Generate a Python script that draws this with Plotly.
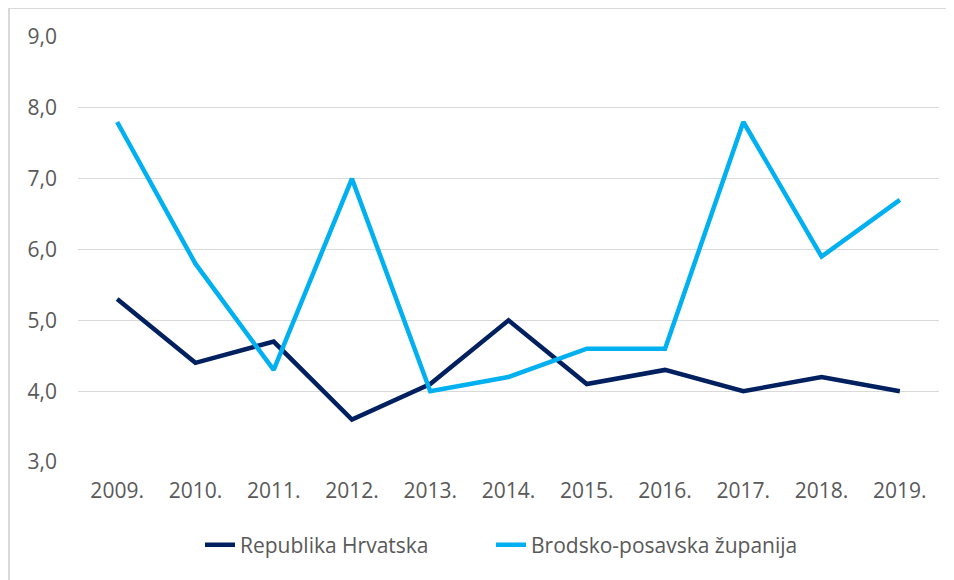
import plotly.graph_objects as go

years = ["2009.", "2010.", "2011.", "2012.", "2013.", "2014.", "2015.", "2016.", "2017.", "2018.", "2019."]
hrvatska = [5.3, 4.4, 4.7, 3.6, 4.1, 5.0, 4.1, 4.3, 4.0, 4.2, 4.0]
brodsko = [7.8, 5.8, 4.3, 7.0, 4.0, 4.2, 4.6, 4.6, 7.8, 5.9, 6.7]
y_ticks = [3, 4, 5, 6, 7, 8, 9]

fig = go.Figure()
fig.add_trace(go.Scatter(x=years, y=hrvatska, mode="lines", name="Republika Hrvatska",
                         line=dict(color="#002060", width=4.5), legend="legend"))
fig.add_trace(go.Scatter(x=years, y=brodsko, mode="lines", name="Brodsko-posavska županija",
                         line=dict(color="#00b0f0", width=4.5), legend="legend2"))

W, H = 946, 572
L, R, T, B = 70, 15, 29, 118
pw, ph = W - L - R, H - T - B

def px(x):
    return (x - L) / pw

def py(y):
    return (H - B - y) / ph

leg_font = dict(size=21, color="#595959")
fig.update_layout(
    width=W, height=H,
    margin=dict(l=L, r=R, t=T, b=B, autoexpand=False),
    paper_bgcolor="white", plot_bgcolor="white",
    separators=",.",
    font=dict(family="Open Sans", size=21, color="#595959"),
    showlegend=True,
    legend=dict(orientation="h", x=px(192), xanchor="left", y=py(537), yanchor="middle",
                font=leg_font, bgcolor="rgba(0,0,0,0)"),
    legend2=dict(orientation="h", x=px(483), xanchor="left", y=py(537), yanchor="middle",
                 font=leg_font, bgcolor="rgba(0,0,0,0)"),
    xaxis=dict(range=[-0.5, 10.5], showgrid=False, showline=False, zeroline=False, ticks="",
               ticklabelstandoff=14, automargin=False),
    yaxis=dict(range=[3, 9], tickvals=y_ticks, tickformat=".1f", showgrid=True,
               gridcolor="#d9d9d9", gridwidth=1, zeroline=False, showline=False,
               ticks="", ticklabelstandoff=20, automargin=False),
    shapes=[
        dict(type="line", xref="paper", yref="paper", x0=px(1), x1=px(W + 5), y0=py(0), y1=py(0),
             line=dict(color="#d9d9d9", width=2)),
        dict(type="line", xref="paper", yref="paper", x0=px(1), x1=px(1), y0=py(0), y1=py(H + 5),
             line=dict(color="#d9d9d9", width=2)),
    ],
)

fig.write_html("out.html")
